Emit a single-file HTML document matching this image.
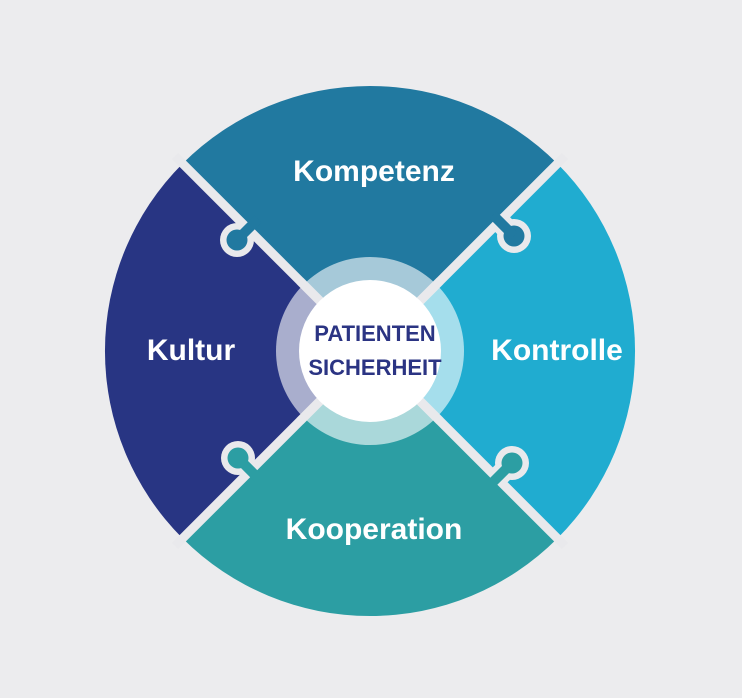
<!DOCTYPE html>
<html><head><meta charset="utf-8"><style>
html,body{margin:0;padding:0;background:#ececee;width:742px;height:698px;overflow:hidden}
svg{display:block}
text{font-family:"Liberation Sans",sans-serif;font-weight:bold;text-anchor:middle}
</style></head><body>
<svg width="742" height="698" viewBox="0 0 742 698">
<rect width="742" height="698" fill="#ececee"/>
<path d="M370 351 L182.6 163.6 A265 265 0 0 1 557.4 163.6 Z" fill="#2179a0"/>
<path d="M370 351 L557.4 163.6 A265 265 0 0 1 557.4 538.4 Z" fill="#20acd0"/>
<path d="M370 351 L557.4 538.4 A265 265 0 0 1 182.6 538.4 Z" fill="#2c9ea3"/>
<path d="M370 351 L182.6 538.4 A265 265 0 0 1 182.6 163.6 Z" fill="#283583"/>
<g stroke="#e9e9ec" stroke-width="9">
<line x1="370" y1="351" x2="175" y2="156"/>
<line x1="370" y1="351" x2="565" y2="156"/>
<line x1="370" y1="351" x2="565" y2="546"/>
<line x1="370" y1="351" x2="175" y2="546"/>
</g>
<g fill="#e9e9ec" stroke="#e9e9ec">
<circle cx="237" cy="240" r="17" stroke="none"/><line x1="237" y1="240" x2="250" y2="227" stroke-width="21"/>
<circle cx="514" cy="236" r="17" stroke="none"/><line x1="514" y1="236" x2="501" y2="223" stroke-width="21"/>
<circle cx="512" cy="463" r="17" stroke="none"/><line x1="512" y1="463" x2="499" y2="476" stroke-width="21"/>
<circle cx="238" cy="458" r="17" stroke="none"/><line x1="238" y1="458" x2="251" y2="471" stroke-width="21"/>
</g>
<circle cx="237" cy="240" r="10.5" fill="#2179a0"/><line x1="237" y1="240" x2="258" y2="219" stroke="#2179a0" stroke-width="10"/>
<circle cx="514" cy="236" r="10.5" fill="#2179a0"/><line x1="514" y1="236" x2="493" y2="215" stroke="#2179a0" stroke-width="10"/>
<circle cx="512" cy="463" r="10.5" fill="#2c9ea3"/><line x1="512" y1="463" x2="491" y2="484" stroke="#2c9ea3" stroke-width="10"/>
<circle cx="238" cy="458" r="10.5" fill="#2c9ea3"/><line x1="238" y1="458" x2="259" y2="479" stroke="#2c9ea3" stroke-width="10"/>
<circle cx="370" cy="351" r="94" fill="#ffffff" fill-opacity="0.6"/>
<g stroke="#e9e9ec" stroke-width="9">
<line x1="370" y1="351" x2="300" y2="281"/>
<line x1="370" y1="351" x2="440" y2="281"/>
<line x1="370" y1="351" x2="440" y2="421"/>
<line x1="370" y1="351" x2="300" y2="421"/>
</g>
<circle cx="370" cy="351" r="71" fill="#ffffff"/>
<g fill="#ffffff" font-size="30">
<text x="374" y="181">Kompetenz</text>
<text x="191" y="360">Kultur</text>
<text x="557" y="360">Kontrolle</text>
<text x="374" y="539">Kooperation</text>
</g>
<g fill="#2b3483" font-size="22">
<text x="375" y="341">PATIENTEN</text>
<text x="375" y="375">SICHERHEIT</text>
</g>
</svg>
</body></html>
